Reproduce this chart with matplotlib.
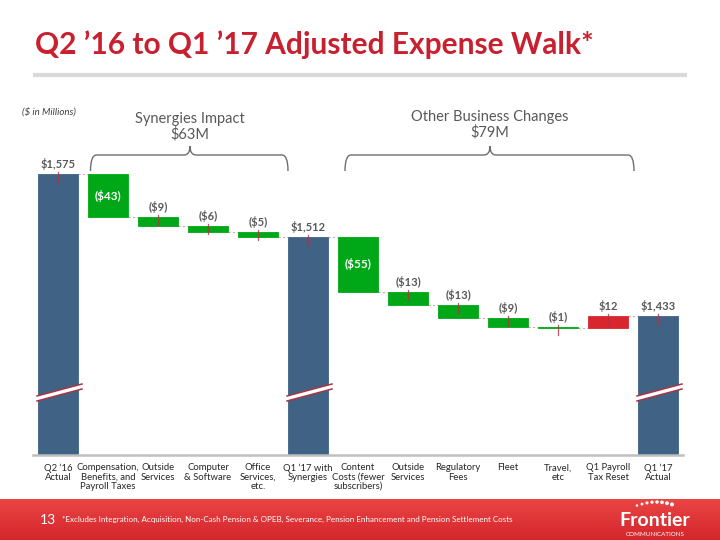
import numpy as np
import matplotlib
matplotlib.use("Agg")
import matplotlib.pyplot as plt
from matplotlib.path import Path
from matplotlib.patches import PathPatch, Polygon
from matplotlib.lines import Line2D
from matplotlib.colors import to_rgb

# ---------------- data ----------------
categories = ["Q2 \u201916\nActual", "Compensation,\nBenefits, and\nPayroll Taxes", "Outside\nServices",
              "Computer\n& Software", "Office\nServices,\netc.", "Q1 \u201917 with\nSynergies",
              "Content\nCosts (fewer\nsubscribers)", "Outside\nServices", "Regulatory\nFees", "Fleet",
              "Travel,\netc", "Q1 Payroll\nTax Reset", "Q1 \u201917\nActual"]
values = [1575, -43, -9, -6, -5, 1512, -55, -13, -13, -9, -1, 12, 1433]
kinds = ["total", "delta", "delta", "delta", "delta", "total", "delta", "delta", "delta", "delta",
         "delta", "delta", "total"]
value_labels = ["$1,575", "($43)", "($9)", "($6)", "($5)", "$1,512", "($55)", "($13)", "($13)",
                "($9)", "($1)", "$12", "$1,433"]
group_titles = ["Synergies Impact\n$63M", "Other Business Changes\n$79M"]
title = "Q2 \u201916 to Q1 \u201917 Adjusted Expense Walk*"
footnote = ("*Excludes Integration, Acquisition, Non-Cash Pension & OPEB, Severance, "
            "Pension Enhancement and Pension Settlement Costs")
page_number = "13"

# ---------------- style ----------------
NARROW = ['Lato', 'DejaVu Sans']
BLUE = '#406385'
GREEN = '#00A817'
RED = '#D9262E'
TXT = '#595959'
axis_floor = 1294

fig = plt.figure(figsize=(7.2, 5.4), dpi=100)
fig.patch.set_facecolor('white')

ax = fig.add_axes([33 / 720, 85 / 540, 650 / 720, 360 / 540])
ax.set_xlim(-0.5, 12.5)
ax.set_ylim(axis_floor, 1654)

# compute bar geometry
bottoms, heights, colors, tops = [], [], [], []
running = 0
for v, k in zip(values, kinds):
    if k == "total":
        running = v
        bottoms.append(axis_floor)
        heights.append(v - axis_floor)
        colors.append(BLUE)
        tops.append(v)
    else:
        new = running + v
        bottoms.append(min(running, new))
        heights.append(abs(v))
        colors.append(GREEN if v < 0 else RED)
        tops.append(max(running, new))
        running = new

x = np.arange(len(values))
ax.bar(x, heights, bottom=bottoms, width=0.8, color=colors, edgecolor=colors, linewidth=0.6, zorder=2)

# connectors
levels = []
running = 0
for v, k in zip(values, kinds):
    running = v if k == "total" else running + v
    levels.append(running)
for i in range(len(values) - 1):
    ax.plot([i + 0.4, i + 0.6], [levels[i], levels[i]], color='#E3A3A8', lw=0.8,
            ls=(0, (2, 2)), zorder=1)

# value labels and red ticks
for i, (v, k, lab) in enumerate(zip(values, kinds, value_labels)):
    inside = (k == "delta" and abs(v) >= 40)
    if inside:
        ax.text(i, bottoms[i] + heights[i] / 2, lab, ha='center', va='center', color='white',
                fontsize=8.5, fontweight='bold', family=NARROW, zorder=4)
    else:
        ax.text(i, tops[i] + 4, lab, ha='center', va='bottom', color=TXT,
                fontsize=8, fontweight='bold', family=NARROW, zorder=4)
        ax.plot([i, i], [tops[i] + 2, tops[i] - 8], color='#B5303F', lw=0.9, alpha=0.8, zorder=3)

# axis-break marks on the total bars
for i, k in enumerate(kinds):
    if k == "total":
        pts = [(i - 0.42, 1348), (i + 0.48, 1360), (i + 0.48, 1365), (i - 0.42, 1353)]
        ax.add_patch(Polygon(pts, closed=True, facecolor='white', edgecolor='none', zorder=3))
        ax.plot([i - 0.42, i + 0.48], [1348, 1360], color='#A83444', lw=1.1, zorder=3.5)
        ax.plot([i - 0.42, i + 0.48], [1353, 1365], color='#A83444', lw=1.1, zorder=3.5)

# axes styling
for s in ['top', 'right', 'left']:
    ax.spines[s].set_visible(False)
ax.spines['bottom'].set_color('#BFBFBF')
ax.spines['bottom'].set_linewidth(1.8)
ax.set_yticks([])
ax.set_xticks(x)
ax.set_xticklabels(categories, fontsize=6.8, color='#262626', family=NARROW, linespacing=1.05)
ax.tick_params(axis='x', length=0, pad=6)


# braces
def brace(x0, x1, xm, yline, yend, ytip, r=0.12):
    verts = [(x0, yend), (x0, yline), (x0 + r, yline),
             (xm - r, yline), (xm, yline), (xm, ytip),
             (xm, yline), (xm + r, yline),
             (x1 - r, yline), (x1, yline), (x1, yend)]
    codes = [Path.MOVETO, Path.CURVE3, Path.CURVE3,
             Path.LINETO, Path.CURVE3, Path.CURVE3,
             Path.CURVE3, Path.CURVE3,
             Path.LINETO, Path.CURVE3, Path.CURVE3]
    ax.add_patch(PathPatch(Path(verts, codes), facecolor='none', edgecolor='#6E6E6E',
                           lw=1.0, clip_on=False, zorder=2))


brace(0.65, 4.6, 2.64, 1594, 1578, 1603)
brace(5.74, 11.52, 8.64, 1594, 1578, 1603)
ax.text(2.64, 1622, group_titles[0], ha='center', va='center', color=TXT, fontsize=10.5,
        family=NARROW, linespacing=1.1)
ax.text(8.64, 1624, group_titles[1], ha='center', va='center', color=TXT, fontsize=10.5,
        family=NARROW, linespacing=1.1)

# header
fig.text(35 / 720, 1 - 45 / 540, title, ha='left', va='center', color='#C8202F',
         fontsize=21.5, fontweight='bold', family=NARROW)
fig.add_artist(Line2D([35 / 720, 685 / 720], [1 - 75 / 540] * 2, color='#D9D9D9', lw=3))
fig.text(22 / 720, 1 - 112 / 540, "($ in Millions)", ha='left', va='center', color='#404040',
         fontsize=7, style='italic', family=NARROW)

# footer band
fh = 41 / 540
fax = fig.add_axes([0, 0, 1, fh])
c_top = np.array(to_rgb('#EA4545'))
c_bot = np.array(to_rgb('#D3262B'))
t = np.linspace(0, 1, 60)[:, None, None]
grad = c_top * (1 - t) + c_bot * t
grad = np.repeat(grad, 4, axis=1)
fax.imshow(grad, aspect='auto', extent=[0, 1, 0, 1], origin='upper')
fax.set_xlim(0, 1)
fax.set_ylim(0, 1)
fax.axis('off')
fax.text(40 / 720, 0.49, page_number, ha='left', va='center', color='white', fontsize=10,
         family=NARROW)
fax.text(62 / 720, 0.50, footnote, ha='left', va='center', color='white', fontsize=5.8,
         family=NARROW)
fax.text(655 / 720, 0.47, "Frontier", ha='center', va='center', color='white', fontsize=14,
         fontweight='bold', family=NARROW)
fax.text(655 / 720, 0.14, "COMMUNICATIONS", ha='center', va='center', color='white', fontsize=4.5,
         family=NARROW)
dot_x = np.linspace(637, 672, 8)
dot_y = 507 - 5 * np.sin(np.linspace(0.3, 2.6, 8))
dot_s = np.linspace(0.6, 3.5, 8)
fax.scatter(dot_x / 720, (540 - dot_y) / (fh * 540), s=dot_s, color='white', zorder=5)

fig.savefig("out.png", dpi=100)
